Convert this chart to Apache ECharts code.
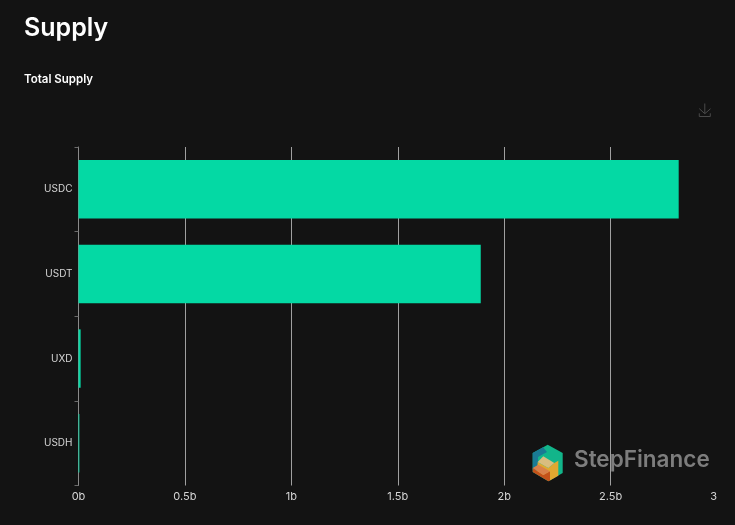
<!DOCTYPE html>
<html>
<head>
<meta charset="utf-8">
<title>Supply</title>
<script src="https://cdn.jsdelivr.net/npm/echarts@6/dist/echarts.min.js"></script>
<style>
	html, body { margin: 0; padding: 0; background: #131313; }
	#supplyChart { width: 735px; height: 525px; }
</style>
</head>
<body>
<div id="supplyChart"></div>
<script>
var categories = ['USDC', 'USDT', 'UXD', 'USDH'];
var supply = [2.82, 1.89, 0.01, 0.004];
var tickLabels = { 0: '0b', 0.5: '0.5b', 1: '1b', 1.5: '1.5b', 2: '2b', 2.5: '2.5b', 3: '3' };

var font = 'Inter';

// step finance logo, drawn as flat polygons
function logoPart(points, color) {
	return {
		type: 'polygon',
		silent: true,
		z: 20,
		shape: { points: points },
		style: { fill: color }
	};
}

var chart = echarts.init(document.getElementById('supplyChart'));
var option = {
	backgroundColor: '#131313',
	animation: false,
	title: [{
		text: 'Supply',
		left: 19,
		top: 11,
		textStyle: { color: '#ffffff', fontFamily: font, fontSize: 25, fontWeight: 600 }
	}, {
		text: 'Total Supply',
		left: 19,
		top: 69,
		textStyle: { color: '#ffffff', fontFamily: font, fontSize: 11.5, fontWeight: 600 }
	}],
	toolbox: {
		show: true,
		right: 7,
		top: 86,
		itemSize: 13,
		feature: {
			saveAsImage: { show: true, title: '' }
		},
		iconStyle: { borderColor: '#4a4a4a', borderWidth: 1 }
	},
	grid: { left: 78.5, right: 18, top: 147, bottom: 39.5 },
	xAxis: {
		type: 'value',
		min: 0,
		max: 3,
		interval: 0.5,
		axisLine: { show: false },
		axisTick: { show: false },
		axisLabel: {
			color: '#d6d6d6',
			fontFamily: font,
			fontSize: 11,
			margin: 6,
			alignMaxLabel: 'right',
			formatter: function(v) { return tickLabels[v]; }
		},
		splitLine: { show: true, showMaxLine: false, lineStyle: { color: '#a0a0a0', width: 1 } }
	},
	yAxis: {
		type: 'category',
		inverse: true,
		data: categories,
		axisLine: { show: true, lineStyle: { color: '#8a8a8a', width: 1 } },
		axisTick: { show: true, length: 4, lineStyle: { color: '#6a6a6a' } },
		axisLabel: { color: '#d6d6d6', fontFamily: font, fontSize: 10, margin: 6 }
	},
	series: [{
		name: 'Total Supply',
		type: 'bar',
		barWidth: '69%',
		data: supply,
		itemStyle: { color: '#04d9a4' }
	}],
	graphic: [
		logoPart([[547.7, 444.7], [562.7, 453], [562.7, 473], [548.3, 481.3], [532.7, 472], [532.7, 453]], '#12b58a'),
		logoPart([[532.7, 453], [543, 447.3], [547, 452], [538, 457], [538, 470], [532.7, 470]], '#1a7a94'),
		logoPart([[554.3, 463], [558.3, 460.7], [558.3, 475.7], [550, 480.5], [537, 472], [537.7, 462], [548.3, 468]], '#e0a830'),
		logoPart([[537.7, 462], [543.3, 456.3], [554.3, 463], [548.3, 468]], '#d9bd7f'),
		logoPart([[532.7, 468], [543.3, 475], [550, 471.3], [550, 480.5], [548.3, 481.3], [532.7, 472]], '#c4521a'),
		logoPart([[532.7, 468], [538.3, 464.7], [550, 471.3], [543.3, 475]], '#d9804a'),
		{
			type: 'text',
			left: 574,
			top: 449,
			z: 20,
			silent: true,
			style: {
				text: 'StepFinance',
				fill: '#7d7d7d',
				fontFamily: font,
				fontSize: 22.5,
				fontWeight: 600
			}
		}
	]
};
chart.setOption(option);
</script>
</body>
</html>
